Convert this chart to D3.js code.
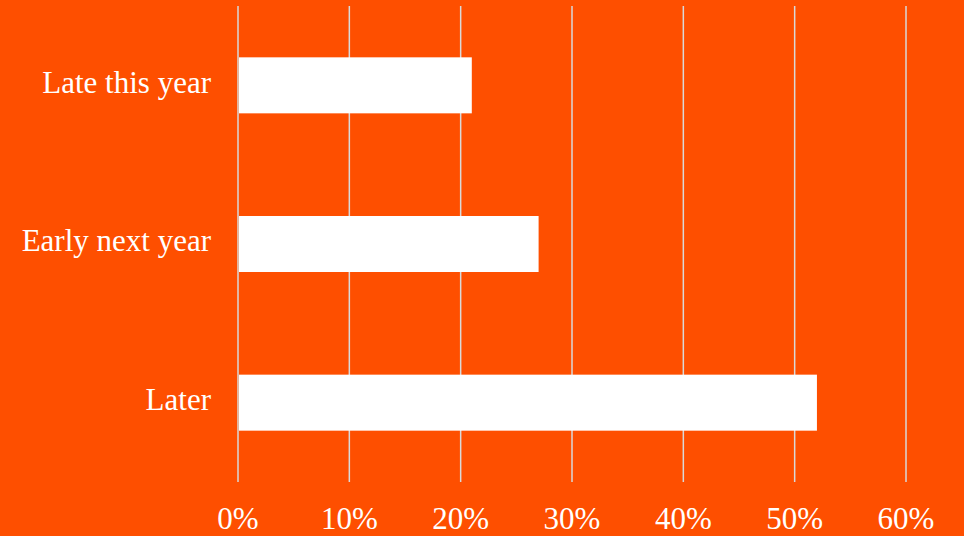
<!DOCTYPE html>
<html>
<head>
<meta charset="utf-8">
<script src="https://cdn.jsdelivr.net/npm/d3@7"></script>
<style>
  html,body{margin:0;padding:0;background:#fe4f00;}
  svg{display:block;}
  .lbl{font-family:"Liberation Serif","DejaVu Serif",serif;fill:#fff;}
</style>
</head>
<body>
<script>
var width=964,height=536;
// data
var categories=["Late this year","Early next year","Later"];
var values=[0.21,0.27,0.52];
var ticks=[0,0.1,0.2,0.3,0.4,0.5,0.6];

var svg=d3.select("body").append("svg")
          .attr("width",width)
          .attr("height",height);

svg.append("rect").attr("width",width).attr("height",height).attr("fill","#fe4f00");

var x=d3.scaleLinear().domain([0,0.6]).range([238,906]);
var y=d3.scaleBand().domain(categories).range([6,482])
        .paddingInner(0.647).paddingOuter(0.3235);

// gridlines
svg.append("g").selectAll("line")
   .data(ticks)
   .enter()
   .append("line")
   .attr("x1",function(d){return x(d);})
   .attr("x2",function(d){return x(d);})
   .attr("y1",6)
   .attr("y2",482)
   .attr("stroke","#d9d9d9")
   .attr("stroke-width",1.5);

// bars
svg.append("g").selectAll("rect")
   .data(values)
   .enter()
   .append("rect")
   .attr("x",x(0)+1)
   .attr("y",function(d,i){return y(categories[i]);})
   .attr("width",function(d){return x(d)-x(0)-1;})
   .attr("height",y.bandwidth())
   .attr("fill","#ffffff");

// category labels
svg.append("g").selectAll("text")
   .data(categories)
   .enter()
   .append("text")
   .attr("class","lbl")
   .attr("x",211)
   .attr("y",function(d){return y(d)+y.bandwidth()/2;})
   .attr("dy","0.24em")
   .attr("text-anchor","end")
   .attr("font-size",31)
   .text(function(d){return d;});

// x axis labels
svg.append("g").selectAll("text")
   .data(ticks)
   .enter()
   .append("text")
   .attr("class","lbl")
   .attr("x",function(d){return x(d);})
   .attr("y",529)
   .attr("text-anchor","middle")
   .attr("font-size",31)
   .text(d3.format(".0%"));
</script>
</body>
</html>
